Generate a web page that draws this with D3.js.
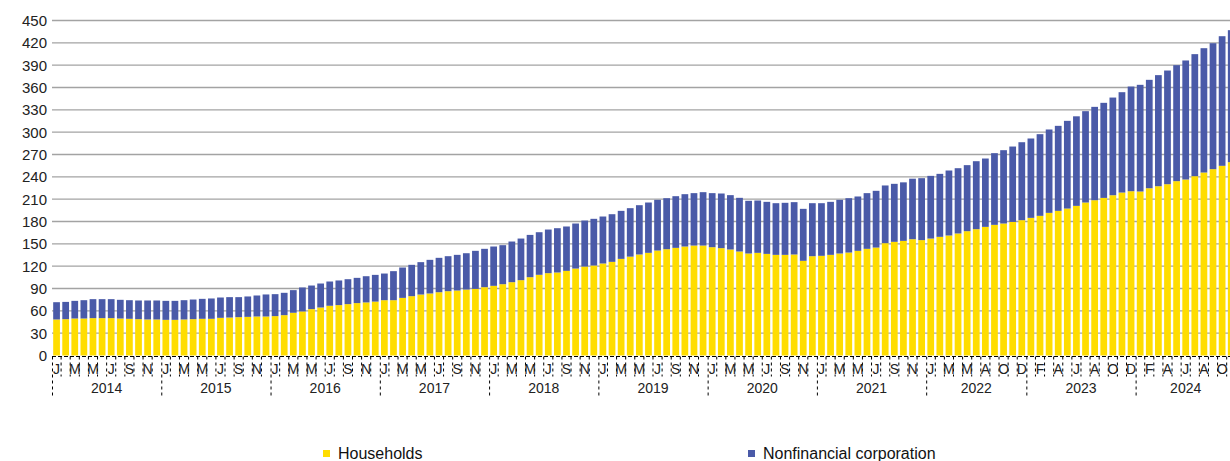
<!DOCTYPE html>
<html>
<head>
<meta charset="utf-8">
<script src="https://cdn.jsdelivr.net/npm/d3@7"></script>
<style>
  html, body { margin: 0; padding: 0; background: #fff; }
  svg { display: block; font-family: "Liberation Sans", Arial, sans-serif; }
</style>
</head>
<body>
<svg id="chart" width="1230" height="461"></svg>
<script>
// month letters per year (2022 is missing July in the source data, 2024 ends in November)
var yearMonths = [
  ["2014", "JFMAMJJASOND"],
  ["2015", "JFMAMJJASOND"],
  ["2016", "JFMAMJJASOND"],
  ["2017", "JFMAMJJASOND"],
  ["2018", "JFMAMJJASOND"],
  ["2019", "JFMAMJJASOND"],
  ["2020", "JFMAMJJASOND"],
  ["2021", "JFMAMJJASOND"],
  ["2022", "JFMAMJASOND"],
  ["2023", "JFMAMJJASOND"],
  ["2024", "JFMAMJJASON"]
];

var households = [
  48.4, 48.8, 49.7, 49.7, 50.2, 50.2, 50.2, 49.7, 49.3, 48.8, 48.4, 48.4,
  47.9, 47.9, 48.4, 48.8, 49.3, 49.3, 50.6, 51.0, 51.5, 51.9, 52.4, 52.4,
  52.9, 54.2, 57.4, 59.2, 62.3, 64.5, 66.8, 67.7, 69.0, 70.4, 71.3, 72.4,
  74.3, 74.3, 77.4, 79.7, 81.9, 83.3, 85.0, 86.4, 87.3, 88.6, 89.5, 91.8,
  93.6, 95.8, 98.5, 101.2, 105.2, 108.4, 110.6, 111.5, 113.7, 116.8, 119.5, 120.9,
  123.6, 125.8, 129.8, 132.8, 135.7, 137.9, 141.0, 142.8, 144.6, 146.4, 147.7, 147.7,
  145.5, 144.2, 142.4, 139.7, 137.0, 137.9, 136.5, 135.2, 135.2, 135.7, 127.2, 133.4,
  133.9, 135.2, 137.0, 138.3, 140.6, 143.3, 145.0, 150.9, 152.7, 154.0, 156.2, 155.0,
  157.1, 159.4, 161.2, 163.9, 167.0, 169.7, 172.8, 175.5, 177.3, 179.5, 181.8,
  184.9, 187.6, 191.6, 194.3, 197.4, 201.0, 205.5, 208.6, 211.7, 215.3, 218.9, 220.7,
  220.3, 224.7, 227.4, 230.1, 234.2, 236.4, 240.9, 245.8, 250.3, 254.8, 259.7
];

var nonfinancial = [
  23.2, 23.2, 23.7, 24.6, 25.5, 25.5, 25.5, 25.1, 25.0, 25.1, 25.5, 25.5,
  25.5, 25.5, 25.9, 26.4, 26.8, 27.3, 27.3, 27.4, 26.9, 27.4, 28.2, 29.6,
  29.5, 30.0, 30.4, 32.2, 31.7, 32.2, 32.6, 33.1, 33.5, 33.9, 35.2, 35.9,
  35.8, 39.0, 40.8, 42.1, 43.5, 45.2, 46.2, 47.0, 47.9, 48.8, 51.1, 51.5,
  52.8, 52.4, 54.6, 55.9, 56.8, 57.2, 58.6, 59.5, 59.6, 60.5, 61.8, 62.7,
  63.1, 64.0, 64.5, 65.1, 66.2, 67.6, 68.1, 68.5, 69.4, 70.3, 70.4, 71.7,
  72.6, 73.4, 73.0, 72.1, 70.8, 70.3, 69.9, 69.4, 69.9, 70.3, 69.8, 71.2,
  70.7, 71.2, 72.1, 73.0, 73.0, 74.8, 76.2, 77.5, 77.9, 78.6, 81.3, 83.2,
  84.2, 84.6, 87.3, 87.7, 88.7, 91.3, 91.8, 96.3, 98.5, 101.2, 104.7,
  106.6, 109.7, 112.0, 114.2, 117.8, 120.3, 122.7, 125.4, 127.7, 131.2, 134.8, 140.6,
  143.3, 145.6, 149.2, 152.7, 155.8, 159.9, 163.9, 167.0, 169.2, 174.1, 177.3
];

var yTicks = [0, 30, 60, 90, 120, 150, 180, 210, 240, 270, 300, 330, 360, 390, 420, 450];

var seriesNames = ["Households", "Nonfinancial corporation"];
var colors = ["#ffdd00", "#4a5aa8"];

// build categories
var categories = [];
yearMonths.forEach(function(ym) {
  ym[1].split("").forEach(function(m) {
    categories.push({year: ym[0], month: m});
  });
});
var rows = categories.map(function(c, i) {
  return {i: i, hh: households[i], nfc: nonfinancial[i]};
});

var svg = d3.select("#chart");
var plotLeft = 52, plotTop = 20.5, plotBottom = 355.5;
var step = 9.106;
var plotRight = plotLeft + step * categories.length;

var x = d3.scaleBand()
  .domain(d3.range(categories.length))
  .range([plotLeft, plotRight])
  .paddingInner(0.26)
  .paddingOuter(0.13);

var y = d3.scaleLinear().domain([0, 450]).range([plotBottom, plotTop]);

// gridlines
svg.append("g")
  .selectAll("line")
  .data(yTicks.filter(function(d) { return d > 0; }))
  .enter().append("line")
    .attr("x1", plotLeft).attr("x2", 1230)
    .attr("y1", function(d) { return y(d); })
    .attr("y2", function(d) { return y(d); })
    .attr("stroke", "#a3a3a3")
    .attr("stroke-width", 1.3);

// y labels
svg.append("g")
  .selectAll("text")
  .data(yTicks)
  .enter().append("text")
    .attr("x", 47)
    .attr("y", function(d) { return y(d); })
    .attr("dy", "0.36em")
    .attr("text-anchor", "end")
    .attr("font-size", 15)
    .attr("fill", "#222")
    .text(function(d) { return d; });

// stacked bars
var stack = d3.stack().keys(["hh", "nfc"]);
var layers = stack(rows);

svg.append("g")
  .selectAll("g")
  .data(layers)
  .enter().append("g")
    .attr("fill", function(d, i) { return colors[i]; })
  .selectAll("rect")
  .data(function(d) { return d; })
  .enter().append("rect")
    .attr("x", function(d) { return x(d.data.i); })
    .attr("width", x.bandwidth())
    .attr("y", function(d) { return y(d[1]); })
    .attr("height", function(d) { return y(d[0]) - y(d[1]); });

// x axis: dashed baseline, month ticks, year separators
var axis = svg.append("g").attr("stroke", "#000").attr("stroke-width", 1);
axis.append("line")
  .attr("x1", plotLeft).attr("x2", 1230)
  .attr("y1", plotBottom + 1).attr("y2", plotBottom + 1)
  .attr("stroke-dasharray", "4,2");

var boundaries = d3.range(categories.length + 1);
var yearStarts = [];
categories.forEach(function(c, i) {
  if (i === 0 || categories[i - 1].year !== c.year) yearStarts.push(i);
});

axis.selectAll(".mtick")
  .data(boundaries.filter(function(b) { return yearStarts.indexOf(b) < 0; }))
  .enter().append("line")
    .attr("class", "mtick")
    .attr("x1", function(b) { return plotLeft + b * step; })
    .attr("x2", function(b) { return plotLeft + b * step; })
    .attr("y1", plotBottom + 1).attr("y2", plotBottom + 21)
    .attr("stroke-dasharray", "3,3");

axis.selectAll(".ytick")
  .data(yearStarts)
  .enter().append("line")
    .attr("class", "ytick")
    .attr("x1", function(b) { return plotLeft + b * step + 0.5; })
    .attr("x2", function(b) { return plotLeft + b * step + 0.5; })
    .attr("y1", plotBottom + 1).attr("y2", plotBottom + 42)
    .attr("stroke-dasharray", "3,3");

// month labels every other category
svg.append("g")
  .selectAll("text")
  .data(categories.filter(function(c, i) { return i % 2 === 0; }))
  .enter().append("text")
    .attr("x", function(c) { return x(categories.indexOf(c)) + x.bandwidth() / 2; })
    .attr("y", 374)
    .attr("text-anchor", "middle")
    .attr("font-size", 14)
    .attr("fill", "#222")
    .text(function(c) { return c.month; });

// year labels
svg.append("g")
  .selectAll("text")
  .data(yearStarts)
  .enter().append("text")
    .attr("x", function(s, j) {
      var end = j + 1 < yearStarts.length ? yearStarts[j + 1] : categories.length;
      return plotLeft + (s + end) / 2 * step;
    })
    .attr("y", 393)
    .attr("text-anchor", "middle")
    .attr("font-size", 14)
    .attr("fill", "#222")
    .text(function(s) { return categories[s].year; });

// legend
var legendX = [323, 748];
var legend = svg.append("g")
  .selectAll("g")
  .data(seriesNames)
  .enter().append("g")
    .attr("transform", function(d, i) { return "translate(" + legendX[i] + ",450)"; });
legend.append("rect")
  .attr("width", 7).attr("height", 7)
  .attr("fill", function(d, i) { return colors[i]; });
legend.append("text")
  .attr("x", 15).attr("y", 9)
  .attr("font-size", 16)
  .attr("fill", "#111")
  .text(function(d) { return d; });
</script>
</body>
</html>
